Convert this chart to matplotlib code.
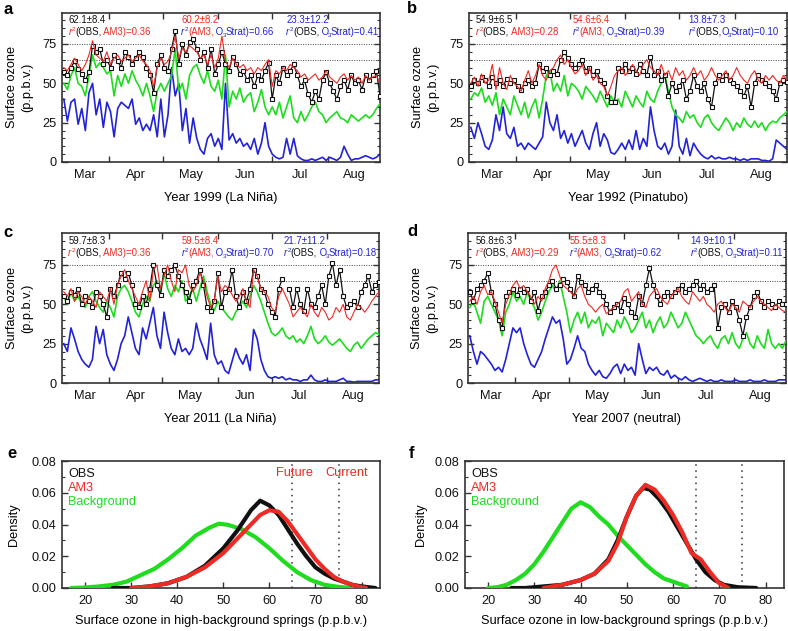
import numpy as np
import matplotlib
matplotlib.use("Agg")
import matplotlib.pyplot as plt
import matplotlib.transforms as mtransforms

plt.rcParams['font.family'] = ['Liberation Sans', 'DejaVu Sans']

# ---------------- data ----------------
days = list(range(6, 183, 2))   # days since 1 March (every second day)

month_edges = [31, 61, 92, 122, 153]
month_centers = [18, 46, 76.5, 107, 137.5, 167.5]
month_labels = ['Mar', 'Apr', 'May', 'Jun', 'Jul', 'Aug']

nan = float('nan')

# Panel a: 1999 (La Nina)
obs_a = [57, 55, 60, 64, 59, 56, 52, 57, 74, 70, 72, 62, 65, 60, 68, 64, 60, 70, 67, 62,
         66, 70, 67, 60, 55, 44, 62, 68, 60, 58, 72, 83, 62, 75, 68, 76, 78, 72, 65, 70,
         60, 72, 56, 62, 70, 62, 58, 67, 62, 56, 58, 52, 55, 48, 55, 52, 58, 63, 40, 55,
         50, 60, 55, 58, 62, 55, 48, 52, 43, 38, 45, 40, 52, 57, 50, 45, 40, 48, 52, 46,
         55, 50, 52, 46, 55, 52, 55, 58, 42]
am3_a = [60, 58, 62, 66, 62, 58, 62, 68, 77, 68, 66, 64, 70, 62, 66, 68, 64, 66, 68, 64,
         66, 68, 64, 62, 58, 48, 60, 66, 62, 64, 70, 80, 66, 72, 70, 74, 72, 70, 66, 68,
         62, 68, 60, 66, 80, 64, 60, 66, 62, 60, 62, 58, 60, 56, 60, 58, 62, 65, 48, 58,
         56, 60, 58, 62, 60, 58, 54, 56, 52, 54, 56, 52, 54, 58, 54, 52, 50, 54, 56, 52,
         55, 52, 54, 50, 55, 52, 54, 55, 50]
bkg_a = [50, 46, 55, 60, 50, 48, 42, 55, 68, 60, 63, 60, 56, 58, 42, 55, 48, 56, 50, 58,
         52, 48, 42, 50, 42, 32, 45, 50, 45, 50, 55, 72, 45, 50, 40, 55, 60, 62, 55, 50,
         58, 48, 45, 52, 40, 68, 35, 45, 40, 47, 38, 42, 44, 32, 38, 46, 35, 30, 35, 30,
         38, 28, 35, 42, 28, 25, 32, 26, 30, 35, 38, 32, 30, 25, 28, 30, 32, 28, 27, 25,
         30, 28, 26, 28, 30, 28, 30, 34, 37]
strat_a = [40, 26, 38, 40, 24, 34, 20, 44, 50, 30, 40, 22, 38, 32, 16, 34, 38, 36, 34, 40,
           24, 28, 20, 24, 20, 30, 16, 40, 16, 30, 60, 42, 50, 20, 34, 12, 28, 15, 8, 5,
           15, 18, 10, 15, 8, 50, 14, 18, 12, 15, 10, 12, 8, 15, 5, 12, 25, 10, 5, 3,
           2, 3, 15, 5, 15, 4, 2, 1, 1, 2, 1, 2, 3, 1, 3, 2, 1, 3, 10, 5,
           1, 2, 2, 3, 4, 3, 2, 3, 5]

# Panel b: 1992 (Pinatubo)
obs_b = [48, 52, 50, 54, 52, 48, 54, 50, 52, 48, 53, 50, 52, 48, 46, 50, 52, 48, 50, 62,
         58, 60, 55, 58, 56, 65, 70, 66, 62, 60, 62, 65, 58, 60, 55, 58, 52, 50, 42, 38,
         38, 60, 58, 62, 58, 60, 56, 62, 58, 55, 67, 55, 58, 52, 55, 42, 50, 45, 48, 52,
         40, 45, 55, 48, 45, 50, 40, 35, 50, 55, 52, 55, 52, 50, 48, 45, 42, 48, 35, 50,
         55, 52, 50, 48, 45, 40, 50, 52, 51]
am3_b = [50, 54, 48, 56, 50, 52, 62, 46, 60, 50, 46, 55, 50, 48, 45, 52, 58, 50, 55, 62,
         55, 52, 58, 60, 65, 68, 62, 65, 60, 56, 58, 62, 55, 60, 52, 55, 50, 48, 42, 48,
         55, 58, 60, 55, 58, 62, 58, 55, 62, 65, 60, 58, 55, 62, 55, 58, 52, 60, 55, 58,
         52, 55, 60, 55, 58, 52, 55, 60, 55, 52, 55, 58, 52, 55, 60, 55, 52, 50, 55, 58,
         52, 50, 55, 52, 55, 52, 50, 55, 52]
bkg_b = [40, 44, 42, 47, 38, 42, 36, 44, 30, 40, 35, 30, 42, 36, 30, 38, 28, 35, 40, 28,
         40, 55, 58, 45, 50, 45, 55, 42, 50, 48, 45, 40, 48, 45, 42, 38, 45, 40, 35, 42,
         38, 40, 35, 45, 40, 35, 42, 38, 35, 45, 40, 38, 45, 50, 55, 45, 35, 30, 28, 25,
         32, 28, 30, 25, 22, 28, 30, 25, 22, 20, 24, 28, 25, 20, 25, 22, 28, 24, 22, 26,
         22, 25, 20, 24, 26, 25, 28, 30, 32]
strat_b = [22, 15, 25, 18, 10, 8, 14, 30, 20, 35, 18, 15, 22, 10, 12, 8, 12, 10, 8, 12,
           16, 38, 25, 20, 30, 15, 20, 12, 18, 10, 15, 20, 12, 8, 18, 25, 10, 18, 14, 6,
           5, 8, 12, 8, 14, 8, 20, 8, 15, 10, 35, 20, 10, 8, 12, 5, 10, 33, 10, 5,
           15, 4, 12, 8, 5, 3, 2, 4, 2, 3, 2, 2, 3, 2, 2, 1, 2, 1, 2, 2,
           2, 1, 1, 0.5, 2, 14, 12, 10, 8]

# Panel c: 2011 (La Nina)
obs_c = [55, 52, 58, 56, 60, 50, 55, 52, 48, 58, 55, 50, 42, 60, 55, 62, 70, 66, 70, 62,
         50, 48, 55, 50, 60, 75, 62, 56, 72, 68, 72, 75, 68, 62, 58, 52, 62, 65, 72, 62,
         48, 46, 52, 70, 48, 58, 60, 72, 55, 48, 58, 52, 60, 72, 68, 60, 58, 50, 45, 42,
         60, 66, nan, 60, 48, 60, 50, 46, 60, 50, 48, 55, 62, 50, 68, 76, 62, 72, 55, 48,
         50, 52, 48, 58, 62, 68, 58, 62, 64]
am3_c = [58, 55, 60, 52, 58, 55, 50, 55, 52, 48, 58, 55, 52, 60, 50, 62, 68, 72, 65, 60,
         55, 50, 58, 65, 52, 72, 75, 60, 68, 75, 65, 58, 72, 70, 75, 62, 58, 62, 70, 65,
         55, 48, 52, 68, 58, 62, 60, 56, 52, 55, 60, 52, 48, 72, 68, 60, 58, 55, 48, 45,
         55, 60, 55, 50, 42, 45, 48, 45, 42, 50, 45, 42, 48, 45, 40, 42, 48, 45, 50, 42,
         40, 45, 50, 48, 45, 48, 52, 55, 58]
bkg_c = [55, 50, 58, 52, 55, 50, 48, 55, 58, 52, 48, 45, 52, 48, 42, 55, 60, 62, 58, 52,
         45, 42, 50, 55, 52, 62, 65, 58, 70, 60, 55, 62, 58, 65, 52, 55, 60, 52, 60, 68,
         58, 50, 46, 52, 48, 45, 42, 40, 45, 48, 52, 48, 55, 62, 58, 52, 45, 38, 32, 30,
         32, 35, 30, 28, 30, 26, 28, 25, 30, 36, 28, 25, 27, 30, 26, 24, 26, 28, 25, 22,
         20, 24, 26, 22, 25, 28, 30, 32, 31]
strat_c = [25, 20, 35, 28, 20, 15, 12, 10, 15, 36, 25, 34, 18, 12, 8, 15, 25, 30, 42, 32,
           22, 18, 35, 28, 38, 48, 30, 22, 45, 32, 22, 18, 28, 20, 22, 18, 22, 38, 28, 22,
           15, 38, 18, 12, 14, 8, 6, 14, 22, 16, 12, 18, 8, 34, 28, 15, 8, 4, 3, 4,
           3, 4, 2, 3, 2, 2, 1, 2, 2, 5, 2, 1, 1, 2, 1, 1, 1, 2, 3, 1,
           1, 0.5, 1, 1, 1, 1, 1, 2, 2]

# Panel d: 2007 (neutral)
obs_d = [58, 52, 60, 62, 65, 70, 58, 50, 40, 35, 55, 58, 60, 56, 60, 58, 60, 52, 58, 46,
         55, 58, 62, 65, 60, 62, 66, 64, 60, 55, 68, 64, 62, 58, 60, 62, 58, 55, 50, 45,
         48, 50, 46, 54, 50, 45, 42, 55, 50, 62, 73, 62, 55, 50, 55, 58, 55, 58, 60, 62,
         58, 60, 62, 65, 60, 62, 58, 60, 62, 35, 48, 50, 45, 52, 48, 40, 30, 42, 48, 55,
         58, 52, 48, 52, 50, 48, 52, 50, 50]
am3_d = [52, 55, 50, 58, 62, 56, 58, 52, 45, 38, 50, 56, 62, 65, 60, 62, 58, 55, 50, 55,
         52, 60, 65, 72, 75, 68, 62, 60, 58, 55, 60, 62, 55, 50, 48, 45, 48, 50, 44, 46,
         48, 50, 52, 58, 60, 52, 55, 58, 50, 48, 55, 58, 60, 55, 52, 50, 55, 58, 60, 55,
         52, 50, 58, 55, 52, 55, 50, 48, 45, 50, 52, 48, 45, 50, 48, 45, 52, 50, 48, 52,
         55, 52, 50, 48, 46, 50, 48, 46, 45]
bkg_d = [48, 52, 45, 38, 52, 55, 50, 45, 40, 30, 45, 50, 58, 52, 55, 50, 58, 52, 48, 40,
         45, 52, 58, 62, 58, 65, 55, 45, 32, 40, 45, 38, 45, 35, 40, 38, 42, 30, 38, 35,
         32, 40, 35, 42, 38, 32, 35, 40, 45, 35, 40, 32, 38, 42, 35, 38, 45, 40, 35, 38,
         45, 40, 35, 30, 28, 25, 28, 30, 25, 22, 28, 30, 25, 32, 25, 22, 28, 32, 25, 22,
         30, 25, 22, 34, 25, 22, 25, 22, 27]
strat_d = [30, 20, 12, 20, 18, 15, 12, 8, 10, 7, 15, 25, 35, 32, 35, 25, 18, 12, 10, 15,
           20, 28, 35, 42, 38, 40, 28, 12, 15, 22, 30, 22, 20, 12, 8, 5, 8, 4, 3, 6,
           10, 12, 6, 12, 8, 10, 5, 25, 15, 6, 10, 8, 10, 6, 5, 8, 3, 5, 3, 2,
           4, 2, 1, 2, 3, 2, 1, 2, 1, 1, 2, 1, 1, 1, 2, 1, 1, 1, 2, 1,
           1, 1, 2, 1, 1, 1, 2, 2, 2]

panel_years = ['Year 1999 (La Niña)', 'Year 1992 (Pinatubo)',
               'Year 2011 (La Niña)', 'Year 2007 (neutral)']
stats_mean = [('62.1±8.4', '60.2±8.2', '23.3±12.2'),
              ('54.9±6.5', '54.6±6.4', '13.8±7.3'),
              ('59.7±8.3', '59.5±8.4', '21.7±11.2'),
              ('56.8±6.3', '55.5±8.3', '14.9±10.1')]
stats_r2 = [('0.36', '0.66', '0.41'),
            ('0.28', '0.39', '0.10'),
            ('0.36', '0.70', '0.18'),
            ('0.29', '0.62', '0.11')]

# Density panels
e_green_x = [17, 20, 23, 26, 29, 32, 35, 38, 41, 44, 47, 49, 51, 54, 57, 60, 63, 66, 69, 72, 75, 78]
e_green_y = [0.0, 0.0003, 0.001, 0.002, 0.004, 0.008, 0.012, 0.018, 0.025, 0.033, 0.038, 0.0405,
             0.0398, 0.037, 0.032, 0.025, 0.017, 0.010, 0.005, 0.002, 0.0007, 0.0]
e_obs_x = [26, 30, 34, 38, 42, 46, 50, 53, 56, 58, 60, 62, 64, 66, 68, 70, 72, 74, 76, 78, 80, 83]
e_obs_y = [0.0, 0.0, 0.001, 0.003, 0.007, 0.014, 0.025, 0.036, 0.049, 0.055, 0.052, 0.046,
           0.037, 0.028, 0.020, 0.013, 0.009, 0.006, 0.004, 0.002, 0.001, 0.0]
e_am3_x = [30, 34, 38, 42, 46, 50, 53, 56, 58, 60, 62, 64, 66, 68, 70, 72, 74, 76, 78, 80, 81]
e_am3_y = [0.0, 0.001, 0.003, 0.007, 0.013, 0.022, 0.031, 0.040, 0.046, 0.049, 0.048, 0.042,
           0.034, 0.026, 0.018, 0.012, 0.007, 0.004, 0.002, 0.0005, 0.0]

f_green_x = [20, 22, 24, 26, 28, 30, 32, 34, 36, 38, 40, 42, 44, 46, 48, 50, 52, 54, 56, 58, 60, 63]
f_green_y = [0.0, 0.0005, 0.002, 0.005, 0.009, 0.015, 0.023, 0.032, 0.041, 0.050, 0.054, 0.051,
             0.045, 0.040, 0.033, 0.027, 0.021, 0.015, 0.010, 0.006, 0.004, 0.001]
f_obs_x = [25, 28, 32, 36, 40, 43, 46, 48, 50, 52, 53.5, 55, 57, 59, 61, 63, 65, 67, 69, 71, 74, 78]
f_obs_y = [0.0, 0.0, 0.001, 0.002, 0.005, 0.009, 0.018, 0.030, 0.045, 0.058, 0.063, 0.062,
           0.056, 0.048, 0.038, 0.028, 0.018, 0.010, 0.005, 0.002, 0.0005, 0.0]
f_am3_x = [32, 36, 40, 43, 46, 48, 50, 52, 54, 56, 58, 60, 62, 64, 66, 68, 70, 72]
f_am3_y = [0.0, 0.002, 0.005, 0.009, 0.017, 0.028, 0.045, 0.058, 0.065, 0.062, 0.055, 0.046,
           0.035, 0.022, 0.018, 0.010, 0.003, 0.0]

RED = '#ee2a24'
BLUE = '#2323d6'
GREEN = '#1fdc1f'
BLACK = '#111111'
FRAME = '#333333'

# ---------------- figure ----------------
fig = plt.figure(figsize=(7.88, 6.31), dpi=100)
renderer = fig.canvas.get_renderer()
W, H = 788.0, 631.0

def rect(l, t, r, b):
    return [l / W, 1 - b / H, (r - l) / W, (b - t) / H]

ts_rects = [rect(62, 12.5, 380, 162), rect(469, 12.5, 787, 162),
            rect(62, 233.5, 379, 383), rect(468, 233.5, 786, 383)]
txt_x = [(0.02, 0.375, 0.705), (0.022, 0.325, 0.69),
         (0.02, 0.377, 0.70), (0.025, 0.32, 0.70)]
ylab_x = [-0.091, -0.094, -0.091, -0.094]
series = [(obs_a, am3_a, bkg_a, strat_a), (obs_b, am3_b, bkg_b, strat_b),
          (obs_c, am3_c, bkg_c, strat_c), (obs_d, am3_d, bkg_d, strat_d)]
letters = [('a', 4, 14), ('b', 407, 13), ('c', 3, 237), ('d', 407, 236),
           ('e', 7, 458), ('f', 409, 458)]

FS = 9.2
SFS = 6.9


def style_axes(ax):
    for sp in ax.spines.values():
        sp.set_linewidth(1.2)
        sp.set_color(FRAME)
    ax.tick_params(which='both', direction='in', top=True, right=True,
                   colors=FRAME, labelcolor='#111111', labelsize=FS)
    ax.tick_params(which='major', length=4, width=1)
    ax.tick_params(which='minor', length=2.5, width=0.8)


def mixed(ax, x, y, parts):
    """parts: (text, colour, size factor, vertical shift in px, style, extra advance px)"""
    dx = 0.0
    for s, c, f, dy, st, adv in parts:
        tr = mtransforms.offset_copy(ax.transAxes, fig=fig, x=dx, y=dy, units='dots')
        t = ax.text(x, y, s, color=c, fontsize=SFS * f, style=st, transform=tr,
                    va='baseline', ha='left')
        dx += t.get_window_extent(renderer).width + adv


def r2(c):
    return [('r', c, 1.0, 0, 'italic', 0.3), ('2', c, 0.66, 3.6, 'normal', -0.3)]


def o3strat(c, val, lead):
    return [(lead + 'O', c, 1.0, 0, 'normal', -0.8), ('3', c, 0.66, -1.8, 'normal', -0.8),
            ('Strat)=' + val, c, 1.0, 0, 'normal', 0)]


def plain(s, c):
    return [(s, c, 1.0, 0, 'normal', -0.3)]


for i in range(4):
    ax = fig.add_axes(ts_rects[i])
    obs, am3, bkg, strat = series[i]
    ax.plot(days, strat, color=BLUE, lw=1.2, zorder=2)
    ax.plot(days, bkg, color=GREEN, lw=1.2, zorder=3)
    ax.plot(days, obs, color=BLACK, lw=0.9, marker='s', ms=3.3, mfc='white',
            mec=BLACK, mew=0.8, zorder=4)
    ax.plot(days, am3, color=RED, lw=0.8, zorder=5)
    for lvl in (65, 75):
        ax.axhline(lvl, color='#444444', lw=0.7, ls=(0, (1, 1.5)), zorder=1)
    ax.set_xlim(5, 182)
    ax.set_ylim(0, 95)
    ax.set_yticks([0, 25, 50, 75])
    ax.set_yticks(list(range(0, 95, 5)), minor=True)
    ax.set_xticks(month_edges)
    ax.set_xticklabels([''] * len(month_edges))
    ax.set_xticks(month_centers, minor=True)
    ax.set_xticklabels(month_labels, minor=True)
    style_axes(ax)
    ax.tick_params(axis='x', which='minor', length=0, pad=5, labelsize=FS)
    ax.tick_params(axis='y', which='major', pad=4)
    ax.set_ylabel('Surface ozone\n(p.p.b.v.)', fontsize=FS, linespacing=1.3)
    ax.yaxis.set_label_coords(ylab_x[i], 0.5)
    ax.set_xlabel(panel_years[i], fontsize=FS)
    ax.xaxis.set_label_coords(0.5, -0.2)

    x1, x2, x3 = txt_x[i]
    m1, m2, m3 = stats_mean[i]
    ra, rb, rc = stats_r2[i]
    y1, y2 = 0.93, 0.85
    ax.text(x1, y1, m1, transform=ax.transAxes, color=BLACK, fontsize=SFS, va='baseline')
    ax.text(x2, y1, m2, transform=ax.transAxes, color=RED, fontsize=SFS, va='baseline')
    ax.text(x3, y1, m3, transform=ax.transAxes, color=BLUE, fontsize=SFS, va='baseline')
    lead = '' if i == 1 else ' '
    mixed(ax, x1, y2, r2(RED) + plain('(OBS,', BLACK) + plain(' AM3)=' + ra, RED))
    mixed(ax, x2, y2, r2(BLUE) + plain('(AM3,', RED) + o3strat(BLUE, rb, ' '))
    mixed(ax, x3, y2, r2(BLUE) + plain('(OBS,', BLACK) + o3strat(BLUE, rc, lead))

# density panels
dens = [(rect(62, 461, 380, 588), (e_obs_x, e_obs_y), (e_am3_x, e_am3_y), (e_green_x, e_green_y),
         'Surface ozone in high-background springs (p.p.b.v.)', True, -0.132),
        (rect(465, 461, 784, 588), (f_obs_x, f_obs_y), (f_am3_x, f_am3_y), (f_green_x, f_green_y),
         'Surface ozone in low-background springs (p.p.b.v.)', False, -0.119)]
for rc_, ob, am, gr, xl, show_fc, ylx in dens:
    ax = fig.add_axes(rc_)
    ax.plot(gr[0], gr[1], color=GREEN, lw=3, solid_capstyle='round', zorder=3)
    ax.plot(ob[0], ob[1], color=BLACK, lw=3, solid_capstyle='round', zorder=3)
    ax.plot(am[0], am[1], color=RED, lw=3, solid_capstyle='round', zorder=4)
    for v in (65, 75):
        ax.axvline(v, color='#333333', lw=1.1, ls=(0, (1, 3)), zorder=1)
    ax.set_xlim(15, 84)
    ax.set_ylim(0, 0.08)
    ax.set_xticks([20, 30, 40, 50, 60, 70, 80])
    ax.set_yticks([0, 0.02, 0.04, 0.06, 0.08])
    ax.set_yticklabels(['0.00', '0.02', '0.04', '0.06', '0.08'])
    ax.set_yticks([0.01, 0.03, 0.05, 0.07], minor=True)
    style_axes(ax)
    ax.tick_params(top=False, right=False, which='both')
    ax.tick_params(axis='x', pad=5)
    ax.tick_params(axis='y', pad=4)
    ax.set_ylabel('Density', fontsize=FS)
    ax.yaxis.set_label_coords(ylx, 0.5)
    ax.set_xlabel(xl, fontsize=FS)
    ax.xaxis.set_label_coords(0.5, -0.215)
    ax.text(0.02, 0.9, 'OBS', transform=ax.transAxes, color=BLACK, fontsize=FS, va='center')
    ax.text(0.02, 0.785, 'AM3', transform=ax.transAxes, color=RED, fontsize=FS, va='center')
    ax.text(0.02, 0.675, 'Background', transform=ax.transAxes, color=GREEN, fontsize=FS, va='center')
    if show_fc:
        ax.text(65.5, 0.0725, 'Future', color=RED, fontsize=FS, ha='center', va='center')
        ax.text(76.8, 0.0725, 'Current', color=RED, fontsize=FS, ha='center', va='center')

for s, x, y in letters:
    fig.text(x / W, 1 - y / H, s, fontsize=12, fontweight='bold', va='baseline', ha='left')

fig.savefig('out.png', dpi=100)
